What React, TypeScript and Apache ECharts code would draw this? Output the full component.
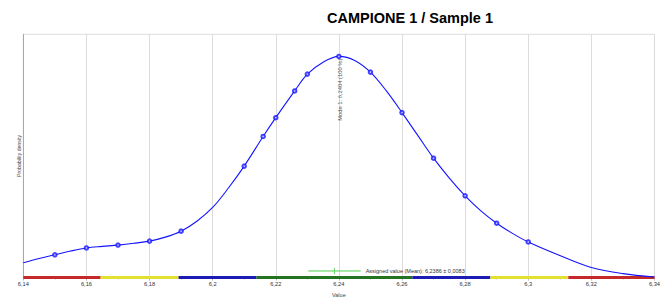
import React, { useEffect, useRef } from "react";
import * as echarts from "echarts";

const TITLE = "CAMPIONE 1 / Sample 1";
const X_NAME = "Value";
const Y_NAME = "Probability density";

const X_MIN = 6.14;
const X_MAX = 6.34;
const X_INTERVAL = 0.02;

// density curve (relative to mode = 1)
const curveX = [
  6.14, 6.145, 6.15, 6.155, 6.16, 6.165, 6.17, 6.175, 6.18, 6.185, 6.19, 6.195,
  6.2, 6.205, 6.21, 6.216, 6.22, 6.226, 6.23, 6.235, 6.24, 6.245, 6.25, 6.255,
  6.26, 6.265, 6.27, 6.275, 6.28, 6.285, 6.29, 6.295, 6.3, 6.31, 6.32, 6.33, 6.34,
];
const curveY = [
  0.067, 0.086, 0.103, 0.12, 0.134, 0.141, 0.147, 0.155, 0.165, 0.183, 0.21, 0.255,
  0.317, 0.405, 0.504, 0.638, 0.723, 0.844, 0.92, 0.974, 1.0, 0.982, 0.929, 0.845,
  0.746, 0.643, 0.54, 0.45, 0.37, 0.302, 0.246, 0.2, 0.161, 0.1, 0.046, 0.018, 0.003,
];

// participant results shown as markers
const markerX = [
  6.15, 6.16, 6.17, 6.18, 6.19, 6.21, 6.216, 6.22, 6.226, 6.23, 6.24, 6.25, 6.26,
  6.27, 6.28, 6.29, 6.3,
];

// bottom band (score zones)
const bandEdges = [6.14, 6.1645, 6.1892, 6.2139, 6.2633, 6.288, 6.3127, 6.34];
const bandColors = ["#c42a2a", "#e4e032", "#1c1cb4", "#237323", "#1c1cb4", "#e4e032", "#c42a2a"];

const ASSIGNED_MEAN = 6.2386;
const ASSIGNED_U = 0.0083;
const ASSIGNED_LEVEL = 0.03;
const ASSIGNED_TEXT = "Assigned value (Mean): 6,2386 ± 0,0083";

const MODE_VALUE = 6.2404;
const MODE_TEXT = "Mode 1: 6,2404 (100 %)";

const FONT = "'Liberation Sans', Arial, sans-serif";

function fmt(v: number): string {
  const r = Math.round(v * 100) / 100;
  return String(r).replace(".", ",");
}

export default function App() {
  const ref = useRef<HTMLDivElement>(null);

  useEffect(() => {
    document.body.style.margin = "0";
    if (!ref.current) return;
    const chart = echarts.init(ref.current, null, { renderer: "svg" });

    const curveData = curveX.map((x, i) => [x, curveY[i]]);
    const markerData = markerX.map((x) => {
      const idx = curveX.indexOf(x);
      return [x, curveY[idx]];
    });

    const bandSeries = bandColors.map((c, i) => ({
      type: "line",
      data: [
        [bandEdges[i], 0],
        [bandEdges[i + 1], 0],
      ],
      symbol: "none",
      lineStyle: { color: c, width: 3 },
      clip: false,
      silent: true,
      z: 3,
    }));

    chart.setOption({
      animation: false,
      textStyle: { fontFamily: FONT },
      title: {
        text: TITLE,
        left: 327,
        top: 10,
        padding: 0,
        textStyle: { fontFamily: FONT, fontSize: 14.5, fontWeight: "bold", color: "#000" },
      },
      grid: {
        left: 23.3,
        right: 6.5,
        top: 34.3,
        bottom: 22,
        show: true,
        borderColor: "#dcdcdc",
        borderWidth: 1,
      },
      xAxis: {
        type: "value",
        min: X_MIN,
        max: X_MAX,
        interval: X_INTERVAL,
        name: X_NAME,
        nameLocation: "middle",
        nameGap: 9,
        nameTextStyle: { fontSize: 5.5, color: "#444", fontFamily: FONT },
        axisLine: { show: false },
        axisTick: { show: true, length: 3, lineStyle: { color: "#bbb" } },
        minorTick: { show: true, splitNumber: 2, length: 2, lineStyle: { color: "#ccc" } },
        splitLine: { show: true, lineStyle: { color: "#dcdcdc", width: 1 } },
        axisLabel: {
          fontSize: 5.7,
          color: "#333",
          margin: 3.5,
          fontFamily: FONT,
          formatter: (v: number) => fmt(v),
        },
      },
      yAxis: {
        type: "value",
        min: 0,
        max: 1.1,
        name: Y_NAME,
        nameLocation: "middle",
        nameGap: 1.5,
        nameRotate: 90,
        nameTextStyle: { fontSize: 5.2, color: "#444", fontFamily: FONT },
        axisLine: { show: true, lineStyle: { color: "#a8a8a8", width: 1 } },
        axisTick: { show: false },
        axisLabel: { show: false },
        splitLine: { show: false },
      },
      series: [
        ...bandSeries,
        {
          type: "line",
          data: curveData,
          smooth: 0.35,
          symbol: "none",
          lineStyle: { color: "#1414ff", width: 1.1 },
          z: 4,
        },
        {
          type: "scatter",
          data: markerData,
          symbol: "emptyCircle",
          symbolSize: 3.5,
          itemStyle: { color: "#1414ff", borderColor: "#1414ff", borderWidth: 0.9 },
          z: 5,
        },
        {
          type: "line",
          data: [
            [ASSIGNED_MEAN - ASSIGNED_U, ASSIGNED_LEVEL],
            [ASSIGNED_MEAN + ASSIGNED_U, ASSIGNED_LEVEL],
          ],
          symbol: "none",
          lineStyle: { color: "#4ccc4c", width: 1 },
          endLabel: {
            show: true,
            formatter: () => ASSIGNED_TEXT,
            fontSize: 5.5,
            color: "#333",
            distance: 5,
            fontFamily: FONT,
          },
          z: 4,
        },
        {
          type: "scatter",
          data: [[ASSIGNED_MEAN, ASSIGNED_LEVEL]],
          symbol: "rect",
          symbolSize: [1, 6],
          itemStyle: { color: "#4ccc4c" },
          z: 4,
        },
        {
          type: "scatter",
          data: [[MODE_VALUE, 0.99]],
          symbolSize: 0,
          label: {
            show: true,
            position: "inside",
            rotate: 90,
            align: "right",
            verticalAlign: "middle",
            formatter: () => MODE_TEXT,
            fontSize: 5.8,
            color: "#222",
            fontFamily: FONT,
          },
          z: 6,
        },
      ],
    });

    return () => chart.dispose();
  }, []);

  return <div ref={ref} style={{ width: 663, height: 303 }} />;
}
